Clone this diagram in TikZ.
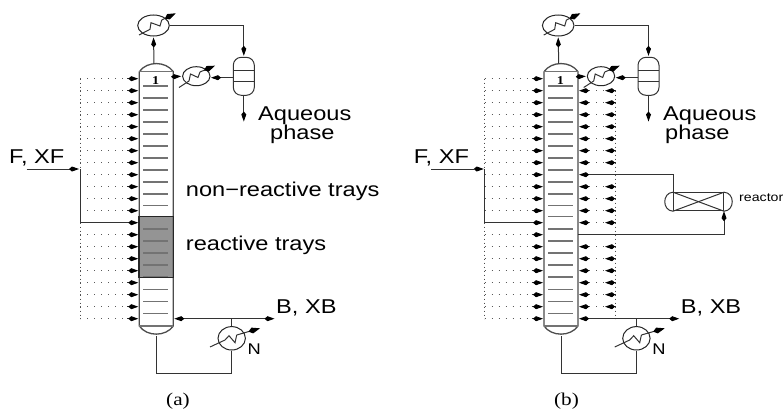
\documentclass[tikz,border=0pt]{standalone}
\usepackage{fontspec}
\setmainfont[FakeStretch=1.18]{Liberation Serif}
\setsansfont[FakeStretch=1.18]{Liberation Sans}
\usetikzlibrary{arrows.meta,shapes.geometric}
\tikzset{
  pipe/.style={line width=1pt,black!80},
  wall/.style={line width=1.3pt,black!70},
  tray/.style={line width=1.3pt,black!55},
  dots/.style={line width=0.7pt,dash pattern=on 0.7pt off 6.3pt,black!65},
  dotsv/.style={line width=0.7pt,dash pattern=on 0.7pt off 3.3pt,black!70},
  flow/.style={pipe,-{Kite[length=10pt,width=5pt,inset=3pt,black]},shorten >=1pt},
  flowbig/.style={pipe,-{Kite[length=12pt,width=6pt,inset=4pt,black]}},
  hx/.style={draw,ellipse,line width=1pt,black!85,inner sep=0pt},
  lbl/.style={font=\sffamily\fontsize{20}{20}\selectfont,inner sep=0pt,anchor=base west},
}
\newcommand{\columnunit}[2]{
  \begin{scope}[shift={(#2pt,0)},name prefix=#1-]
    \coordinate (tl) at (139.3,71.7);
    \coordinate (tr) at (173.3,71.7);
    \coordinate (bl) at (139.3,326);
    \coordinate (br) at (173.3,326);
    \coordinate (tm) at (154,63.5);
    \coordinate (bm) at (156.3,336);
    \foreach \k [evaluate=\k as \rowy using 78.7+12*\k] in {0,...,20} {
      \coordinate (dl\k) at (80,\rowy);
      \coordinate (sl\k) at (127,\rowy);
      \coordinate (wl\k) at (139.3,\rowy);
      \coordinate (wr\k) at (173.3,\rowy);
    }
    \foreach \k in {0,...,11,13,14,...,20} {
      \draw[dots] (dl\k) -- (sl\k);
    }
    \foreach \k in {0,...,20} {
      \draw[flow] (sl\k) -- (wl\k);
    }
    \draw[wall] (tl) -- (bl) to[out=-55,in=-125] (br) -- (tr) to[out=125,in=55] (tl);
    \draw[tray] (tl) -- (tr);
    \draw[tray] (bl) -- (br);
    \foreach \y in {86,98,110,122,134,146,158,170,182,194,205.7,216.7,229,241,253,265,277,289.7,301.7,313.7} {
      \draw[tray] (143.3,\y) -- (168.3,\y);
    }
    \node[font=\rmfamily\bfseries\fontsize{12}{12}\selectfont,inner sep=0pt] (one) at (155.7,80.5) {1};
    \draw[dotsv] (dl0) -- (dl20);

    \coordinate (fin) at (26.5,169);
    \coordinate (fjoin) at (80,169);
    \draw[flow] (fin) -- (fjoin);
    \draw[pipe] (fjoin) -- (dl12);
    \draw[pipe] (dl12) -- (sl12);

    \node[hx,minimum width=31.6pt,minimum height=21pt] (cond) at (153.5,25.5) {};
    \draw[pipe] (139,35) -- (150,29.3) -- (151,22.7) -- (160,26) -- (161.7,20);
    \coordinate (cz) at (161.7,20);
    \coordinate (ce) at (175.7,13.3);
    \draw[flowbig] (cz) -- (ce);
    \draw[flow] (tm) -- (cond.south);

    \node[draw,pipe,rounded corners=8pt,minimum width=21pt,minimum height=38pt,inner sep=0pt] (dec) at (243.8,76.3) {};
    \coordinate (dw1) at (233.3,70.7);
    \coordinate (de1) at (254.3,70.7);
    \coordinate (dw2) at (233.3,81);
    \coordinate (de2) at (254.3,81);
    \draw[pipe] (dw1) -- (de1);
    \draw[pipe] (dw2) -- (de2);
    \draw[flow] (cond.east) -| (dec.north);
    \coordinate (aq) at (243.8,122.5);
    \draw[flow] (dec.south) -- (aq);

    \node[hx,minimum width=27.4pt,minimum height=19pt] (refl) at (196.3,76.2) {};
    \draw[pipe] (179,87.5) -- (189,81) -- (190.5,74) -- (198,77.5) -- (200,72);
    \coordinate (rz) at (200,72);
    \coordinate (re) at (215,65.7);
    \draw[flowbig] (rz) -- (re);
    \coordinate (dwr) at (233.3,77.7);
    \coordinate (rin) at (210,77.7);
    \draw[flow] (dwr) -- (rin);
    \coordinate (cout) at (173.3,76.7);
    \draw[flow] (cout) -- (refl.west);

    \node[hx,minimum width=27.4pt,minimum height=23.4pt] (reb) at (231.7,338.3) {};
    \coordinate (btop) at (231.7,318.7);
    \coordinate (bout) at (275.5,318.7);
    \coordinate (bend) at (156.3,373);
    \draw[flow] (btop) -- (wr20);
    \draw[flow] (btop) -- (bout);
    \draw[pipe] (btop) -- (reb.north);
    \draw[pipe] (reb.south) |- (bend) -- (bm);
    \draw[pipe] (210,347) -- (225,340) -- (229,335.7) -- (235,342.7) -- (236.7,335);
    \coordinate (bz) at (236.7,335);
    \coordinate (be) at (260,328.3);
    \draw[flowbig] (bz) -- (be);

    \node[lbl] (feed) at (9,163.3) {F, XF};
    \node[lbl] (bott) at (276,313.3) {B, XB};
    \node[lbl,font=\sffamily\fontsize{15.5}{15.5}\selectfont] (nn) at (247.5,354.3) {N};
  \end{scope}
}
\begin{document}
\begin{tikzpicture}[x=1pt,y=-1pt]
  \useasboundingbox (0,0) rectangle (783,412);
  \node[fill=black!42,inner sep=0pt,minimum width=34pt,minimum height=60.3pt] (rxzone) at (156.3,246.85) {};
  \columnunit{a}{0}
  \draw[line width=1.3pt,black!85] (rxzone.south west) rectangle (rxzone.north east);
  \node[lbl] (aq1) at (258,120.7) {Aqueous};
  \node[lbl] (aq2) at (270,139.7) {phase};
  \node[lbl] (nr) at (185.7,196) {non−reactive trays};
  \node[lbl] (rt) at (185.7,250) {reactive trays};
  \node[font=\fontsize{18}{18}\selectfont,inner sep=0pt] (capa) at (178,401.5) {(a)};

  \columnunit{b}{404.7}
  \node[lbl] (bq1) at (663,120.7) {Aqueous};
  \node[lbl] (bq2) at (665,139.7) {phase};
  \foreach \k [evaluate=\k as \rowy using 78.7+12*\k] in {1,...,20} {
    \coordinate (ra\k) at (589.3,\rowy);
    \coordinate (rb\k) at (605,\rowy);
    \coordinate (rc\k) at (615.5,\rowy);
  }
  \draw[dotsv] (rc1) -- (rc20);
  \foreach \k in {1,...,7,9,10,11,12,14,15,...,19} {
    \draw[dots] (ra\k) -- (rb\k);
    \draw[flow] (ra\k) -- (b-wr\k);
    \draw[flow,shorten >=0pt] (rc\k) -- (rb\k);
  }
  \node[draw,pipe,minimum width=50pt,minimum height=18pt,inner sep=0pt] (reac) at (698.5,201.7) {};
  \draw[pipe] (reac.north west) .. controls (662,192.7) and (662,210.7) .. (reac.south west);
  \draw[pipe] (reac.north east) .. controls (735,192.7) and (735,210.7) .. (reac.south east);
  \draw[pipe] (reac.north west) -- (reac.south east);
  \draw[pipe] (reac.south west) -- (reac.north east);
  \draw[flow] (reac.north west) |- (b-wr8);
  \draw[flow,shorten >=0pt] (b-wr13) -| (reac.south east);
  \node[lbl,font=\sffamily\fontsize{12}{12}\selectfont] (rlab) at (739,201) {reactor};
  \node[font=\fontsize{18}{18}\selectfont,inner sep=0pt] (capb) at (566.5,401.5) {(b)};
\end{tikzpicture}
\end{document}
